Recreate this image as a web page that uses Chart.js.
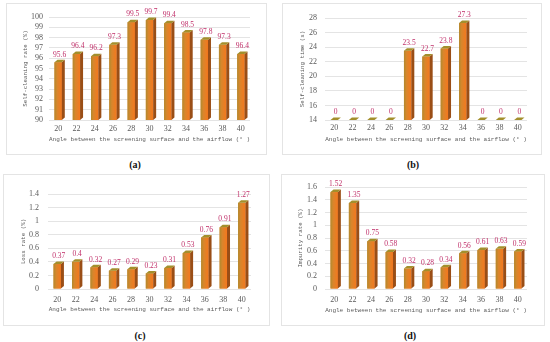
<!DOCTYPE html>
<html>
<head>
<meta charset="utf-8">
<script src="https://cdn.jsdelivr.net/npm/chart.js@4.4.1/dist/chart.umd.min.js"></script>
<style>
html, body { margin: 0; padding: 0; background: #fff; }
body { width: 550px; height: 342px; position: relative; overflow: hidden; }
.frame { position: absolute; border: 1px solid #e4e4e4; box-sizing: border-box; }
canvas { position: absolute; }
.cap { position: absolute; font: bold 10px "Liberation Serif", serif; color: #111; transform: translate(-50%, -50%); white-space: nowrap; }
</style>
</head>
<body>
<div class="frame" id="fa"></div><canvas id="chartA"></canvas><div class="cap" style="left:135px;top:164px">(a)</div>
<div class="frame" id="fb"></div><canvas id="chartB"></canvas><div class="cap" style="left:413px;top:164px">(b)</div>
<div class="frame" id="fc"></div><canvas id="chartC"></canvas><div class="cap" style="left:140px;top:335px">(c)</div>
<div class="frame" id="fd"></div><canvas id="chartD"></canvas><div class="cap" style="left:410px;top:335px">(d)</div>
<script>
(function() {
    'use strict';

    var angles = ['20', '22', '24', '26', '28', '30', '32', '34', '36', '38', '40'];

    var selfCleaningRate = [95.6, 96.4, 96.2, 97.3, 99.5, 99.7, 99.4, 98.5, 97.8, 97.3, 96.4];
    var selfCleaningTime = [0, 0, 0, 0, 23.5, 22.7, 23.8, 27.3, 0, 0, 0];
    var lossRate = [0.37, 0.4, 0.32, 0.27, 0.29, 0.23, 0.31, 0.53, 0.76, 0.91, 1.27];
    var impurityRate = [1.52, 1.35, 0.75, 0.58, 0.32, 0.28, 0.34, 0.56, 0.61, 0.63, 0.59];

    var yTicksA = ['90', '91', '92', '93', '94', '95', '96', '97', '98', '99', '100'];
    var yTicksB = ['14', '16', '18', '20', '22', '24', '26', '28'];
    var yTicksC = ['0', '0.2', '0.4', '0.6', '0.8', '1', '1.2', '1.4'];
    var yTicksD = ['0', '0.2', '0.4', '0.6', '0.8', '1', '1.2', '1.4', '1.6'];

    var xTitle = 'Angle between the screening surface and the airflow (\u00b0 )';
    var textColor = '#5a5a5a';
    var labelColor = '#c0306a';

    // draws the 3D look (front, side, top) and the value labels over each bar
    var bar3d = {
        id: 'bar3d',
        afterDatasetsDraw: function(chart) {
            var ctx = chart.ctx;
            var area = chart.chartArea;
            var meta = chart.getDatasetMeta(0);
            var values = chart.data.datasets[0].data;
            var dx = 3, dy = 2.5;
            ctx.save();
            meta.data.forEach(function(bar, i) {
                var p = bar.getProps(['x', 'y', 'base', 'width'], true);
                var l = p.x - p.width / 2;
                var r = p.x + p.width / 2;
                var top = Math.min(Math.max(Math.min(p.y, p.base), area.top), area.bottom);
                var bottom = Math.min(Math.max(p.y, p.base), area.bottom);
                if (bottom > top) {
                    var g = ctx.createLinearGradient(l, 0, r, 0);
                    g.addColorStop(0, '#b08a2e');
                    g.addColorStop(0.35, '#d8862c');
                    g.addColorStop(1, '#f5781e');
                    ctx.fillStyle = g;
                    ctx.fillRect(l, top, r - l, bottom - top);
                }
                ctx.fillStyle = '#9a4e16';
                ctx.beginPath();
                ctx.moveTo(r, top);
                ctx.lineTo(r + dx, top - dy);
                ctx.lineTo(r + dx, bottom - dy);
                ctx.lineTo(r, bottom);
                ctx.closePath();
                ctx.fill();
                ctx.fillStyle = '#a38f2c';
                ctx.beginPath();
                ctx.moveTo(l, top);
                ctx.lineTo(l + dx, top - dy);
                ctx.lineTo(r + dx, top - dy);
                ctx.lineTo(r, top);
                ctx.closePath();
                ctx.fill();
                ctx.fillStyle = labelColor;
                ctx.font = '7.5px "Liberation Serif", serif';
                ctx.textAlign = 'center';
                ctx.textBaseline = 'bottom';
                ctx.fillText(String(values[i]), p.x + dx / 2, top - dy - 1.5);
            });
            ctx.restore();
        }
    };

    function makeChart(id, frameId, box, area, opts) {
        var frame = document.getElementById(frameId);
        frame.style.left = box[0] + 'px';
        frame.style.top = box[1] + 'px';
        frame.style.width = box[2] + 'px';
        frame.style.height = box[3] + 'px';
        var canvas = document.getElementById(id);
        canvas.style.left = box[0] + 'px';
        canvas.style.top = box[1] + 'px';
        canvas.width = box[2];
        canvas.height = box[3];

        var w = box[2], h = box[3];
        var tickFont = 8, titleFont = 6, yTitleFont = 5.8;
        var tickLabels = opts.yTicks;

        new Chart(canvas, {
            type: 'bar',
            data: {
                labels: angles,
                datasets: [{
                    data: opts.values,
                    backgroundColor: '#e8802a',
                    borderWidth: 0,
                    barPercentage: 0.4,
                    categoryPercentage: 1
                }]
            },
            options: {
                responsive: false,
                animation: false,
                devicePixelRatio: 1,
                layout: { padding: { left: 0, top: area.top, right: w - area.right, bottom: 0 } },
                plugins: { legend: { display: false }, tooltip: { enabled: false } },
                scales: {
                    x: {
                        grid: { display: false, drawTicks: false },
                        border: { display: false },
                        ticks: {
                            color: textColor,
                            padding: opts.xTickY - area.bottom - tickFont / 2,
                            font: { family: '"Liberation Serif", serif', size: tickFont },
                            maxRotation: 0,
                            autoSkip: false
                        },
                        title: {
                            display: true,
                            text: xTitle,
                            color: textColor,
                            font: { family: '"Liberation Mono", monospace', size: titleFont },
                            padding: { top: 0, bottom: h - opts.xTitleY - titleFont * 0.6 }
                        },
                        afterFit: function(scale) { scale.height = h - area.bottom; }
                    },
                    y: {
                        min: opts.min,
                        max: opts.max,
                        grid: { color: '#e4e4e4', lineWidth: 1, drawTicks: false },
                        border: { display: false },
                        ticks: {
                            stepSize: opts.step,
                            autoSkip: false,
                            color: textColor,
                            padding: area.left - opts.yTickRight,
                            font: { family: '"Liberation Serif", serif', size: tickFont },
                            callback: function(v, i) { return tickLabels[i]; }
                        },
                        title: {
                            display: true,
                            text: opts.yTitle,
                            color: textColor,
                            font: { family: '"Liberation Mono", monospace', size: yTitleFont },
                            padding: { top: opts.yTitleX - yTitleFont * 0.6, bottom: 0 }
                        },
                        afterFit: function(scale) { scale.width = area.left; }
                    }
                }
            },
            plugins: [bar3d]
        });
    }

    makeChart('chartA', 'fa', [6, 3, 261, 152], { left: 43, right: 244, top: 14, bottom: 117 }, {
        values: selfCleaningRate, yTicks: yTicksA, min: 90, max: 100, step: 1,
        yTitle: 'Self-cleaning rate (%)', yTickRight: 37, yTitleX: 19, xTickY: 125, xTitleY: 136
    });
    makeChart('chartB', 'fb', [282, 3, 260, 152], { left: 43, right: 245, top: 15, bottom: 117 }, {
        values: selfCleaningTime, yTicks: yTicksB, min: 14, max: 28, step: 2,
        yTitle: 'Self-cleaning time (s)', yTickRight: 35, yTitleX: 20, xTickY: 124, xTitleY: 136
    });
    makeChart('chartC', 'fc', [3, 174, 267, 152], { left: 45, right: 248, top: 20, bottom: 115 }, {
        values: lossRate, yTicks: yTicksC, min: 0, max: 1.4, step: 0.2,
        yTitle: 'Loss rate (%)', yTickRight: 36, yTitleX: 20, xTickY: 125, xTitleY: 135
    });
    makeChart('chartD', 'fd', [281, 174, 264, 152], { left: 44, right: 246, top: 13, bottom: 115 }, {
        values: impurityRate, yTicks: yTicksD, min: 0, max: 1.6, step: 0.2,
        yTitle: 'Impurity rate (%)', yTickRight: 36, yTitleX: 19, xTickY: 125, xTitleY: 136
    });
})();
</script>
</body>
</html>
